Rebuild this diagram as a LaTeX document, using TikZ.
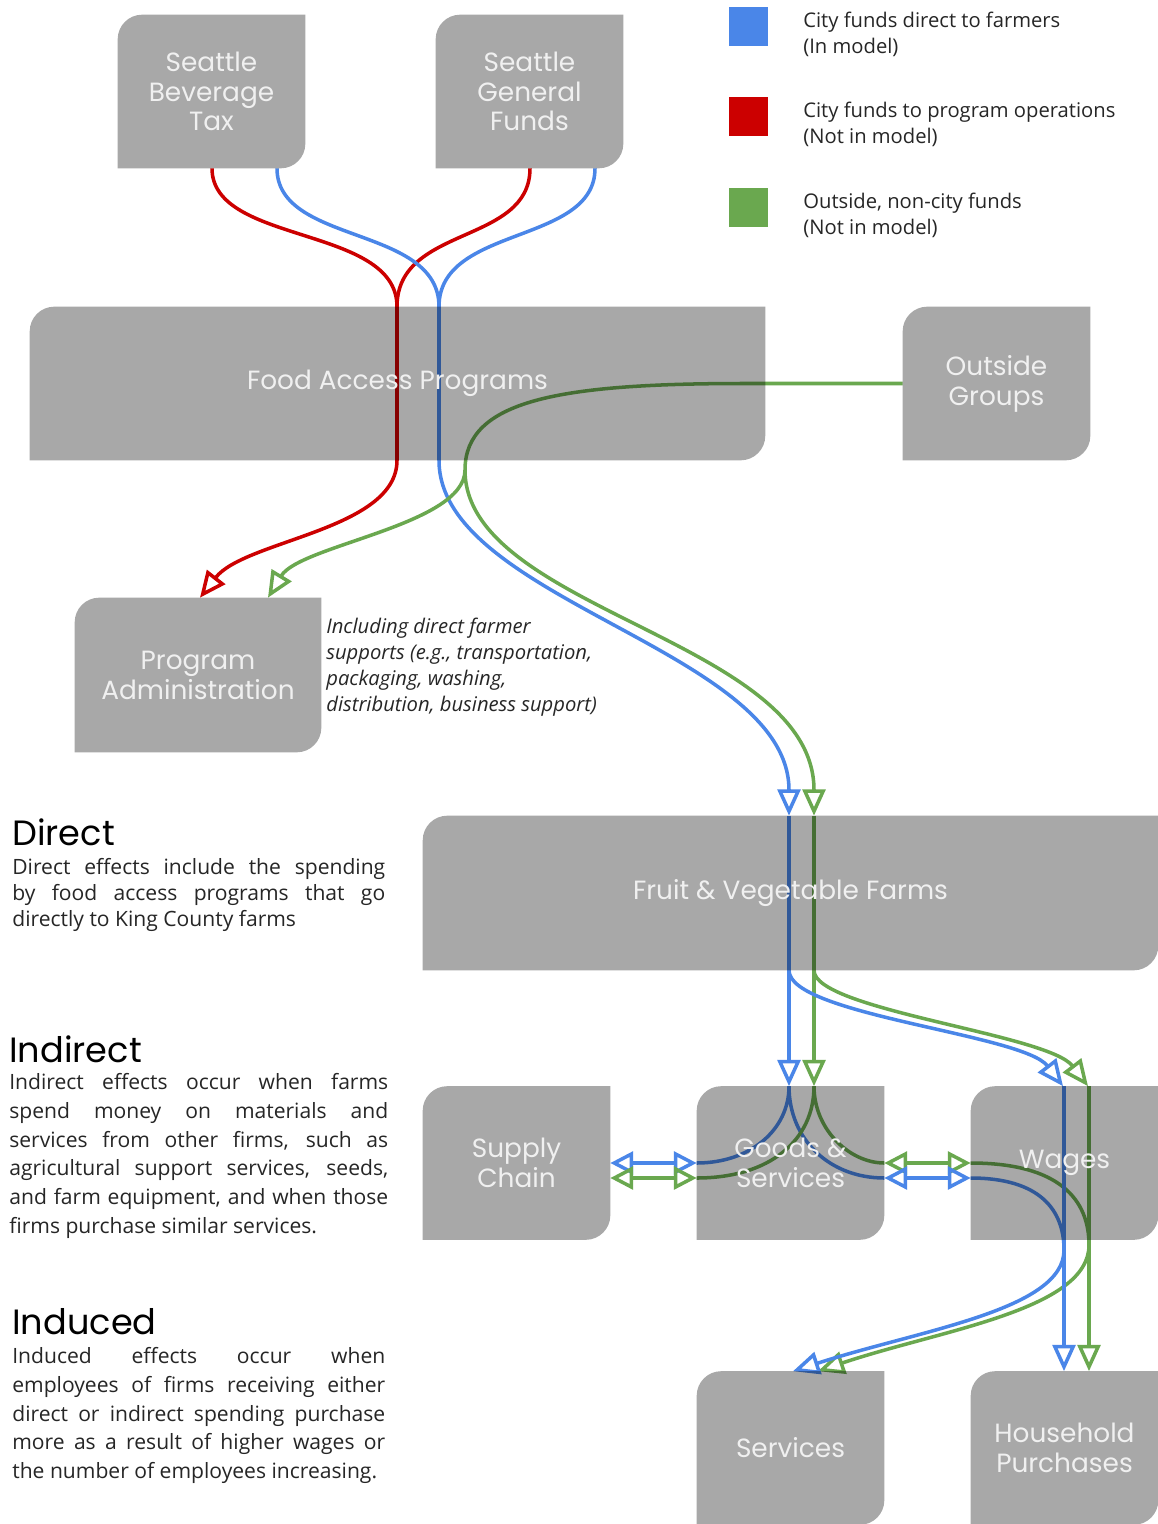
\documentclass[tikz,border=0pt]{standalone}
\usepackage{fontspec}
\setmainfont{Open Sans}
\newfontfamily\boxfont{Poppins}
\usetikzlibrary{arrows.meta}

\definecolor{fundblue}{HTML}{4A86E8}
\definecolor{fundred}{HTML}{CC0000}
\definecolor{fundgreen}{HTML}{6AA84F}

\pgfdeclarelayer{back}
\pgfdeclarelayer{tint}
\pgfsetlayers{back,tint,main}

\tikzset{
  stage/.style={inner sep=0pt, align=center, text=white!94!black,
    font=\boxfont\fontsize{15}{17}\selectfont},
  unitbox/.style={stage, minimum width=3.74cm, minimum height=3.06cm},
  widebox/.style={stage, minimum width=14.7cm, minimum height=3.06cm},
  boxtint/.style={fill=black, fill opacity=0.34},
  money/.style={line width=2pt},
  blueflow/.style={money, draw=fundblue},
  redflow/.style={money, draw=fundred},
  greenflow/.style={money, draw=fundgreen},
  into/.style={-{Triangle[open,length=15pt,width=13pt]}},
  twoway/.style={{Triangle[open,length=13pt,width=13pt]}-{Triangle[open,length=13pt,width=13pt]}},
  heading/.style={anchor=west, inner sep=0pt, font=\boxfont\fontsize{20}{24}\selectfont},
  effect/.style={anchor=north west, inner sep=0pt, align=justify, text=black!85},
  legendtext/.style={anchor=west, inner sep=0pt, align=left, text=black!85,
    font=\fontsize{11.5}{14.7}\selectfont}
}

\begin{document}
\begin{tikzpicture}[x=0.02cm, y=-0.02cm]
  \useasboundingbox (0,0) rectangle (1158,1524);

  \node[unitbox] (sbt) at (211.5,91.5) {Seattle\\Beverage\\Tax};
  \node[unitbox] (sgf) at (529.5,91.5) {Seattle\\General\\Funds};
  \node[widebox] (fap) at (397.5,383.5) {Food Access Programs};
  \node[unitbox] (og) at (996.5,383.5) {Outside\\Groups};
  \node[stage, minimum width=4.92cm, minimum height=3.08cm] (pa) at (198,675) {Program\\Administration};
  \node[widebox, minimum height=3.08cm] (fvf) at (790.5,893) {Fruit \& Vegetable Farms};
  \node[unitbox] (sc) at (516.5,1163) {Supply\\Chain};
  \node[unitbox] (gs) at (790.5,1163) {Goods \&\\Services};
  \node[unitbox] (wg) at (1064.5,1163) {Wages};
  \node[unitbox] (sv) at (790.5,1448) {Services};
  \node[unitbox] (hp) at (1064.5,1448) {Household\\Purchases};

  \begin{pgfonlayer}{tint}
    \foreach \n in {sbt,sgf,fap,og,pa,fvf,sc,gs,wg,sv,hp}
      \fill[boxtint] (\n.south west) -- ([yshift=-14pt]\n.north west)
        arc[start angle=180, end angle=90, radius=14pt] -- (\n.north east)
        -- ([yshift=14pt]\n.south east)
        arc[start angle=0, end angle=-90, radius=14pt] -- cycle;
  \end{pgfonlayer}

  \coordinate (split) at (465,470);

  \begin{pgfonlayer}{back}
    \fill[white] (0,0) rectangle (1158,1524);
    % city funds
    \draw[redflow] (sgf.south -| 530,0) .. controls (530,245) and (397,225) .. (fap.north -| 397,0);
    \draw[blueflow] (sgf.south -| 595,0) .. controls (595,245) and (439,225) .. (fap.north -| 439,0);
    \draw[blueflow, into] (sbt.south -| 277,0) .. controls (277,245) and (439,225) .. (fap.north -| 439,0)
      -- (fap.south -| 439,0) .. controls (439,600) and (789,650) .. (fvf.north -| 789,0);
    \draw[redflow, into] (sbt.south -| 212,0) .. controls (212,245) and (397,225) .. (fap.north -| 397,0)
      -- (fap.south -| 397,0) .. controls (397,530) and (245,540) .. (pa.north -| 200,0);
    % outside funds
    \draw[greenflow] (og.west) -- (745,383.5) .. controls (560,383.5) and (465,400) .. (split);
    \draw[greenflow, into] (split) .. controls (465,525) and (300,545) .. (pa.north -| 268,0);
    \draw[greenflow, into] (split) .. controls (465,610) and (814,640) .. (fvf.north -| 814,0);
    % farms
    \draw[blueflow, into] (fvf.north -| 789,0) -- (gs.north -| 789,0);
    \draw[greenflow, into] (fvf.north -| 814,0) -- (gs.north -| 814,0);
    \draw[blueflow, into] (fvf.south -| 789,0) .. controls (789,1015) and (1023,1034) .. (wg.north -| 1063,0);
    \draw[greenflow, into] (fvf.south -| 814,0) .. controls (814,1010) and (1048,1034) .. (wg.north -| 1088,0);
    % goods and services
    \draw[blueflow] (gs.west |- 0,1163) .. controls (750,1163) and (789,1130) .. (gs.north -| 789,0)
      .. controls (789,1140) and (830,1178) .. (gs.east |- 0,1178);
    \draw[greenflow] (gs.west |- 0,1178) .. controls (770,1178) and (814,1140) .. (gs.north -| 814,0)
      .. controls (814,1130) and (850,1163) .. (gs.east |- 0,1163);
    \draw[blueflow, twoway] (sc.east |- 0,1163) -- (gs.west |- 0,1163);
    \draw[greenflow, twoway] (sc.east |- 0,1178) -- (gs.west |- 0,1178);
    \draw[greenflow, twoway] (gs.east |- 0,1163) -- (wg.west |- 0,1163);
    \draw[blueflow, twoway] (gs.east |- 0,1178) -- (wg.west |- 0,1178);
    % wages
    \draw[greenflow, into] (wg.west |- 0,1163) .. controls (1060,1163) and (1089,1200) .. (1089,1245)
      .. controls (1089,1310) and (940,1330) .. (sv.north -| 818,0);
    \draw[blueflow, into] (wg.west |- 0,1178) .. controls (1040,1178) and (1064,1210) .. (1064,1250)
      .. controls (1064,1310) and (920,1330) .. (sv.north -| 793,0);
    \draw[blueflow, into] (wg.north -| 1064,0) -- (hp.north -| 1064,0);
    \draw[greenflow, into] (wg.north -| 1089,0) -- (hp.north -| 1089,0);
  \end{pgfonlayer}

  % legend
  \foreach \c/\y/\t in {fundblue/33/{City funds direct to farmers\\(In model)},
      fundred/123/{City funds to program operations\\(Not in model)},
      fundgreen/214/{Outside, non-city funds\\(Not in model)}} {
    \fill[\c] (729,\y-26) rectangle (768,\y+13);
    \node[legendtext] at (803,\y+1) {\t};
  }

  \node[legendtext, font=\itshape\fontsize{11.5}{14.7}\selectfont] (note) at (326,667)
    {Including direct farmer\\supports (e.g., transportation,\\packaging, washing,\\distribution, business support)};

  \node[heading] (direct) at (12,832) {Direct};
  \node[effect, text width=7.46cm, font=\fontsize{12}{14.7}\selectfont] (directtext) at (12,858)
    {Direct effects include the spending\linebreak by food access programs that go\linebreak directly to King County farms};
  \node[heading] (indirect) at (9,1049) {Indirect};
  \node[effect, text width=7.58cm, font=\fontsize{12}{16.4}\selectfont] (indirecttext) at (9,1073)
    {Indirect effects occur when farms\linebreak spend money on materials and\linebreak services from other firms, such as\linebreak agricultural support services, seeds,\linebreak and farm equipment, and when those\linebreak firms purchase similar services.};
  \node[heading] (induced) at (12,1322) {Induced};
  \node[effect, text width=7.46cm, font=\fontsize{12}{16.4}\selectfont] (inducedtext) at (12,1347)
    {Induced effects occur when\linebreak employees of firms receiving either\linebreak direct or indirect spending purchase\linebreak more as a result of higher wages or\linebreak the number of employees increasing.};
\end{tikzpicture}
\end{document}
